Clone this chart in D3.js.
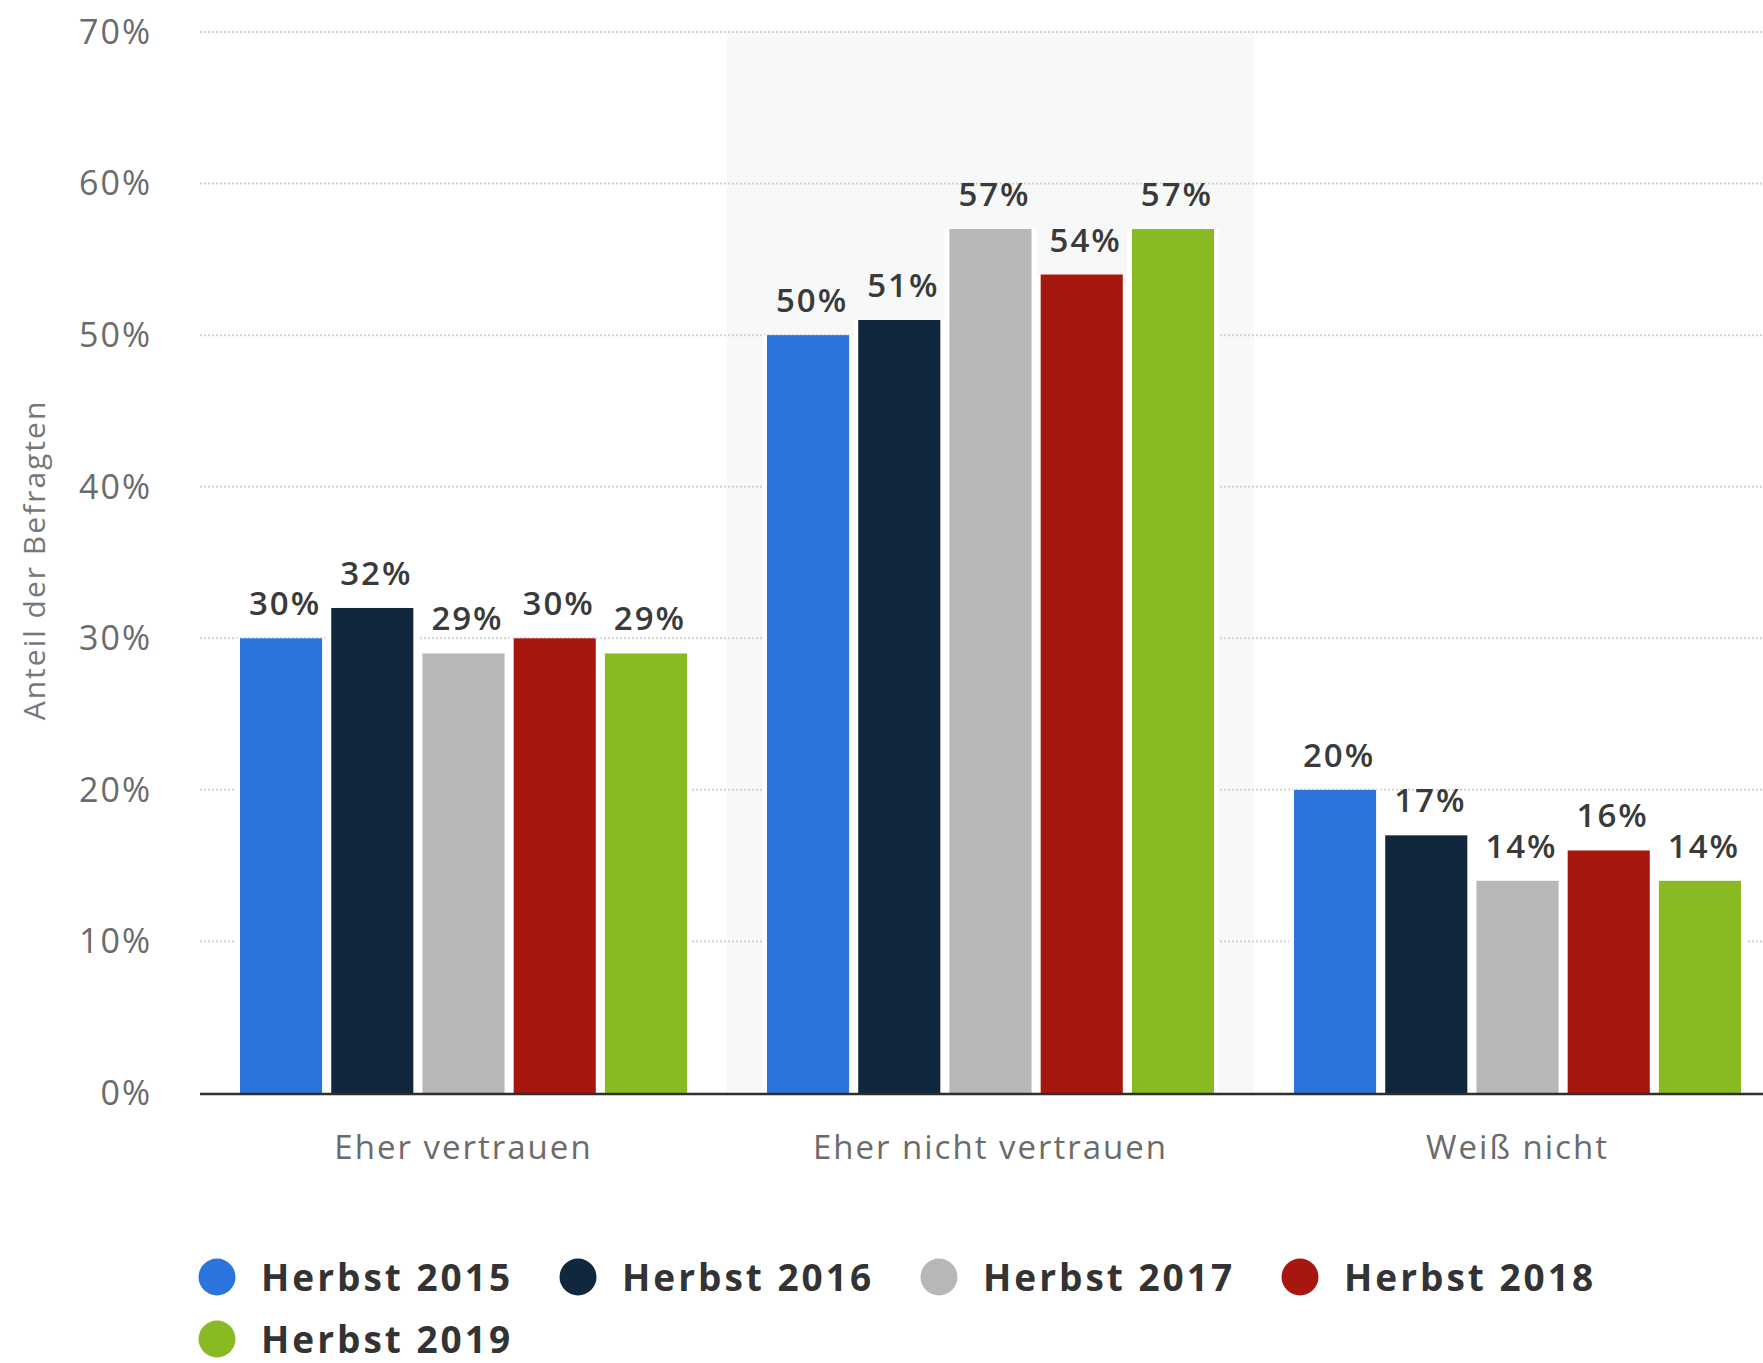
<!DOCTYPE html>
<meta charset="utf-8">
<style>
body {
  margin: 0;
  background: #fff;
  font-family: "Open Sans", "DejaVu Sans", sans-serif;
}
.grid line {
  stroke: #d2d2d2;
  stroke-width: 2;
  stroke-dasharray: 2,2;
}
.tick-label {
  fill: #6b6b6b;
  font-size: 34px;
  letter-spacing: 2px;
}
.value-label {
  fill: #3a3a3a;
  font-size: 33px;
  font-weight: 600;
  letter-spacing: 2px;
}
.cat-label {
  fill: #6b6b6b;
  font-size: 33px;
  letter-spacing: 2px;
}
.legend-label {
  fill: #333;
  font-size: 37px;
  font-weight: 700;
  letter-spacing: 3px;
}
</style>
<body>
<script src="https://cdn.jsdelivr.net/npm/d3@7"></script>
<script>

var width = 1763,
    height = 1363;

// data
var categories = ["Eher vertrauen", "Eher nicht vertrauen", "Weiß nicht"];
var seriesNames = ["Herbst 2015", "Herbst 2016", "Herbst 2017", "Herbst 2018", "Herbst 2019"];
var seriesColors = ["#2a74db", "#10273d", "#b7b7b7", "#a8170f", "#89ba24"];
var herbst2015 = [30, 50, 20];
var herbst2016 = [32, 51, 17];
var herbst2017 = [29, 57, 14];
var herbst2018 = [30, 54, 16];
var herbst2019 = [29, 57, 14];
var yTicks = [0, 10, 20, 30, 40, 50, 60, 70];

var seriesValues = [herbst2015, herbst2016, herbst2017, herbst2018, herbst2019];

// one row per category
var rows = categories.map(function(c, i) {
  return {
    category: c,
    values: seriesNames.map(function(s, k) {
      return {series: s, value: seriesValues[k][i], color: seriesColors[k]};
    })
  };
});

var x0 = d3.scaleBand()
  .domain(categories)
  .range([200, 1781])
  .padding(0);

var x1 = d3.scaleBand()
  .domain(seriesNames)
  .range([40, 487])
  .paddingInner(0.1);

var y = d3.scaleLinear()
  .domain([0, 70])
  .range([1093, 32]);

var svg = d3.select("body").append("svg")
    .attr("width", width)
    .attr("height", height);

// light band behind the middle group
svg.append("rect")
  .attr("x", x0(categories[1]))
  .attr("y", y(70))
  .attr("width", x0.bandwidth())
  .attr("height", y(0) - y(70))
  .style("fill", "#f7f8f8");

// gridlines
svg.append("g")
  .attr("class", "grid")
  .selectAll("line")
  .data(yTicks.filter(function(d) { return d > 0; }))
  .enter().append("line")
    .attr("x1", 200)
    .attr("x2", width)
    .attr("y1", function(d) { return y(d); })
    .attr("y2", function(d) { return y(d); });

// y axis labels
svg.append("g")
  .selectAll("text")
  .data(yTicks)
  .enter().append("text")
    .attr("class", "tick-label")
    .attr("x", 152)
    .attr("y", function(d) { return y(d); })
    .attr("dy", "0.35em")
    .attr("text-anchor", "end")
    .text(function(d) { return d + "%"; });

svg.append("text")
  .attr("transform", "translate(45," + 560 + ")rotate(-90)")
  .attr("text-anchor", "middle")
  .style("fill", "#777")
  .style("font-size", "30px")
  .style("letter-spacing", "2px")
  .text("Anteil der Befragten");

var groups = svg.selectAll(".group")
  .data(rows)
  .enter().append("g")
    .attr("class", "group")
    .attr("transform", function(d) { return "translate(" + x0(d.category) + ",0)"; });

// white underlay so the gaps between bars hide the grid
groups.selectAll(".gap")
  .data(function(d) { return d.values; })
  .enter().append("rect")
    .attr("class", "gap")
    .attr("x", function(d) { return x1(d.series) - 5; })
    .attr("y", function(d) { return y(d.value); })
    .attr("width", x1.bandwidth() + 10)
    .attr("height", function(d) { return y(0) - y(d.value); })
    .style("fill", "#fff");

groups.selectAll(".bar")
  .data(function(d) { return d.values; })
  .enter().append("rect")
    .attr("class", "bar")
    .attr("x", function(d) { return x1(d.series); })
    .attr("y", function(d) { return y(d.value); })
    .attr("width", x1.bandwidth())
    .attr("height", function(d) { return y(0) - y(d.value); })
    .style("fill", function(d) { return d.color; });

groups.selectAll(".value-label")
  .data(function(d) { return d.values; })
  .enter().append("text")
    .attr("class", "value-label")
    .attr("x", function(d) { return x1(d.series) + x1.bandwidth() / 2 + 4; })
    .attr("y", function(d) { return y(d.value) - 23; })
    .attr("text-anchor", "middle")
    .text(function(d) { return d.value + "%"; });

// x axis line
svg.append("line")
  .attr("x1", 200)
  .attr("x2", width)
  .attr("y1", y(0) + 1)
  .attr("y2", y(0) + 1)
  .style("stroke", "#2e2e2e")
  .style("stroke-width", 2.5);

svg.append("g")
  .selectAll("text")
  .data(categories)
  .enter().append("text")
    .attr("class", "cat-label")
    .attr("x", function(d) { return x0(d) + x0.bandwidth() / 2; })
    .attr("y", 1159)
    .attr("text-anchor", "middle")
    .text(function(d) { return d; });

// legend, four per row
var legend = svg.append("g")
  .selectAll("g")
  .data(seriesNames)
  .enter().append("g")
    .attr("transform", function(d, i) {
      return "translate(" + (217 + (i % 4) * 361) + "," + (1277 + Math.floor(i / 4) * 62) + ")";
    });

legend.append("circle")
  .attr("r", 18.5)
  .style("fill", function(d, i) { return seriesColors[i]; });

legend.append("text")
  .attr("class", "legend-label")
  .attr("x", 44)
  .attr("y", 14)
  .text(function(d) { return d; });

</script>
